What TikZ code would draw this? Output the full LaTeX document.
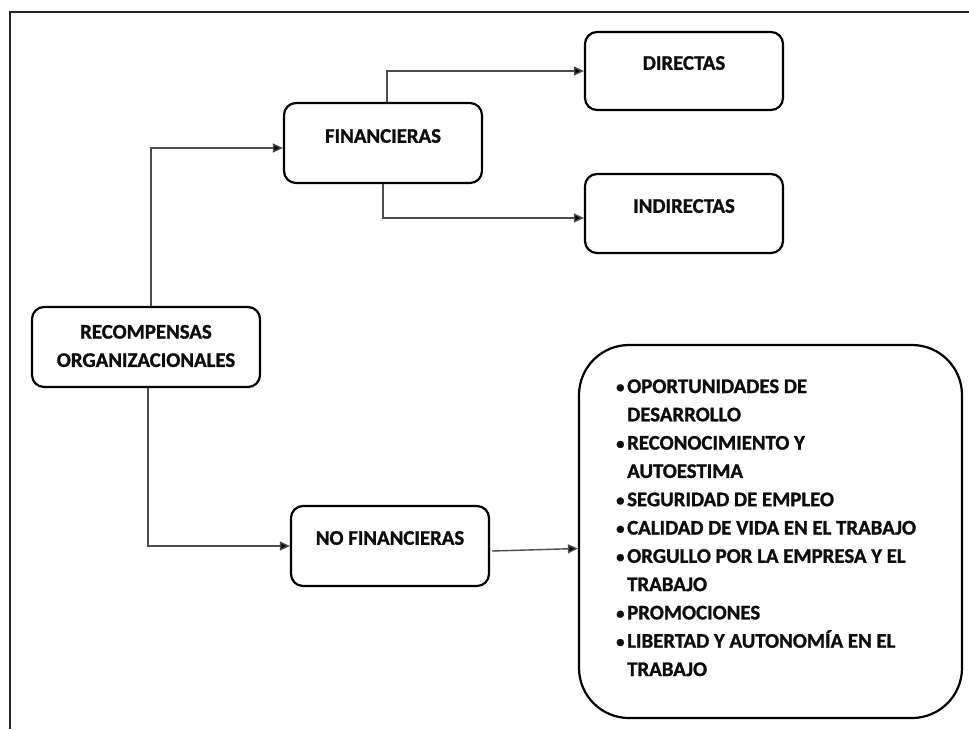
\documentclass[tikz,border=0pt]{standalone}
\usepackage{fontspec}
\setmainfont{Carlito}[BoldFeatures={FakeBold=1.2}]
\usetikzlibrary{arrows.meta}
\newcommand{\bul}{\makebox[11pt][l]{\raisebox{0.5pt}{\scalebox{0.8}{•}}}}
\newcommand{\ind}{\hspace*{11pt}}
\begin{document}
\begin{tikzpicture}[x=1pt,y=-1pt,
  every node/.style={font=\fontsize{20.8}{28.3}\selectfont\bfseries, text=black!95},
  box/.style={draw=black, line width=2.2pt, rounded corners=12pt, inner sep=0pt},
  lbl/.style={inner sep=0pt, align=center},
  item/.style={inner sep=0pt, anchor=base west},
  conn/.style={draw=black!70, line width=1.4pt, -{Triangle[length=10pt,width=9pt,fill=black]}}
]
\useasboundingbox (0,0) rectangle (969,729);
% outer frame (top and left edges)
\draw[line width=2.5pt, black!85] (10,729) -- (10,12) -- (969,12);

% boxes
\node[box, minimum width=228pt, minimum height=80pt] (rec) at (146,347) {};
\node[lbl] (rect) at (146,346) {RECOMPENSAS\\ORGANIZACIONALES};

\node[box, minimum width=198pt, minimum height=80pt] (fin) at (383,143) {};
\node[lbl] (fint) at (383,136) {FINANCIERAS};

\node[box, minimum width=198pt, minimum height=78pt] (dir) at (684,71) {};
\node[lbl] (dirt) at (684,63) {DIRECTAS};

\node[box, minimum width=198pt, minimum height=79pt] (ind) at (684,213.5) {};
\node[lbl] (indt) at (684,206) {INDIRECTAS};

\node[box, minimum width=198pt, minimum height=80pt] (nof) at (390,546) {};
\node[lbl] (noft) at (390,538) {NO FINANCIERAS};

\node[box, rounded corners=50pt, minimum width=383pt, minimum height=373pt] (big) at (770.5,531.5) {};

\foreach \t [count=\i] in {
  {\bul OPORTUNIDADES DE},
  {\ind DESARROLLO},
  {\bul RECONOCIMIENTO Y},
  {\ind AUTOESTIMA},
  {\bul SEGURIDAD DE EMPLEO},
  {\bul CALIDAD DE VIDA EN EL TRABAJO},
  {\bul ORGULLO POR LA EMPRESA Y EL},
  {\ind TRABAJO},
  {\bul PROMOCIONES},
  {\bul LIBERTAD Y AUTONOMÍA EN EL},
  {\ind TRABAJO}}
  \node[item] (it\i) at (616,{393+28.3*(\i-1)}) {\t};

% connectors
\draw[conn] ([xshift=5pt]rec.north) |- ([yshift=-5pt]fin.west);
\draw[conn] ([xshift=2pt]rec.south) |- (nof.west);
\draw[conn] ([xshift=4pt]fin.north) |- (dir.west);
\draw[conn] (fin.south) |- ([yshift=-4.5pt]ind.west);
\draw[conn] ([xshift=2pt,yshift=-5pt]nof.east) -- ([yshift=-17pt]big.west);
\end{tikzpicture}
\end{document}
